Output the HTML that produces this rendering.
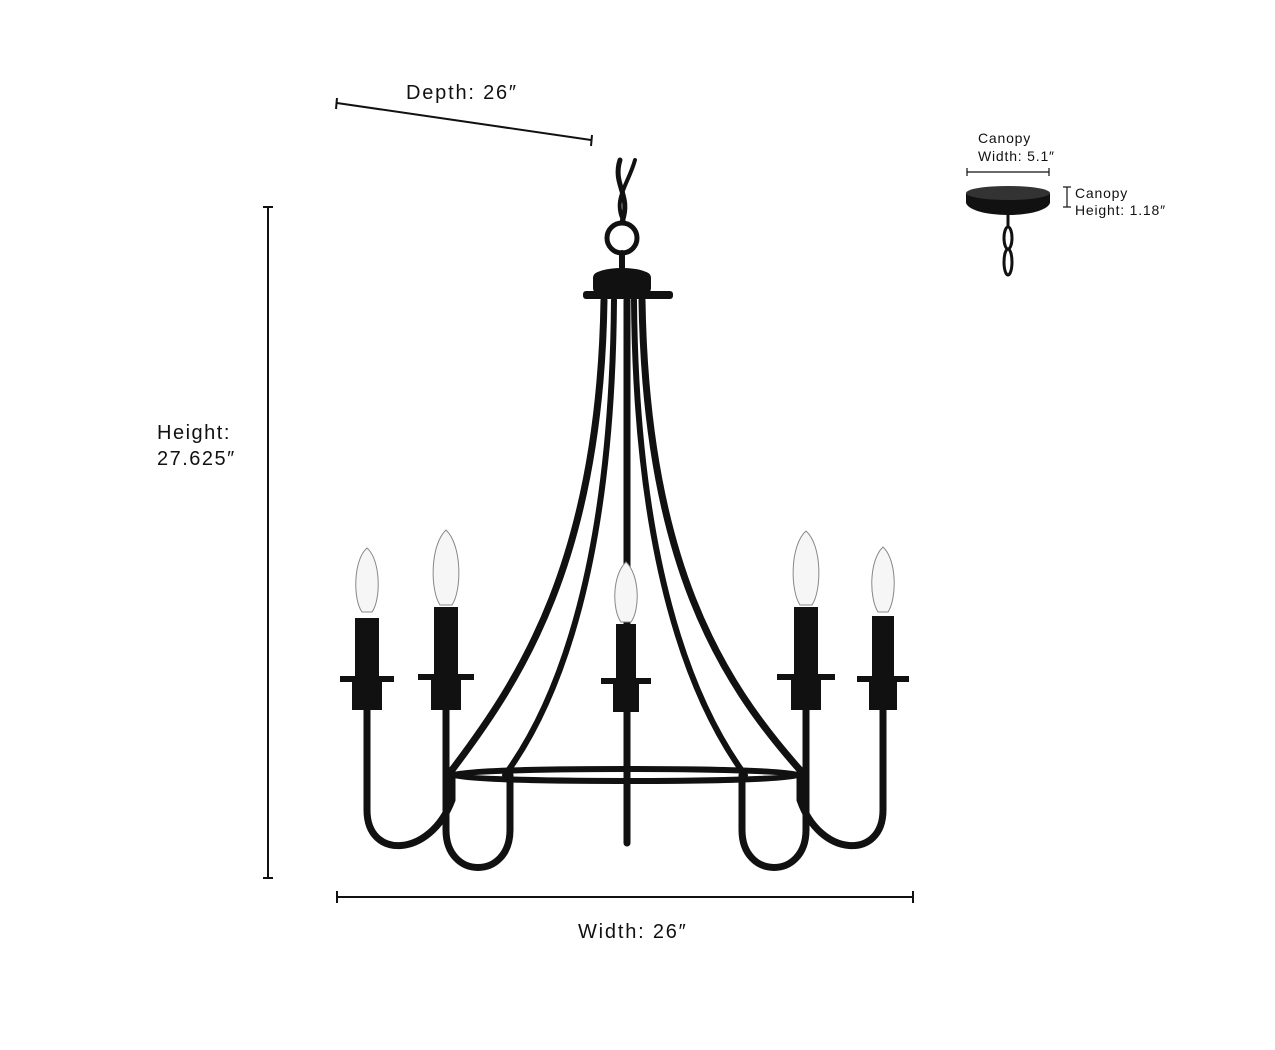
<!DOCTYPE html>
<html><head><meta charset="utf-8"><style>
html,body{margin:0;padding:0;background:#fff;}
svg{display:block;}
text{font-family:"Liberation Sans",sans-serif;fill:#111;}
</style></head><body>
<svg width="1275" height="1050" viewBox="0 0 1275 1050" xmlns="http://www.w3.org/2000/svg">
<g stroke="#111" stroke-width="2" fill="none">
 <line x1="337" y1="103" x2="591" y2="140"/>
 <line x1="337" y1="98" x2="336" y2="109"/>
 <line x1="592" y1="135" x2="591" y2="146"/>
 <line x1="268" y1="207" x2="268" y2="878"/>
 <line x1="263" y1="207" x2="273" y2="207"/>
 <line x1="263" y1="878" x2="273" y2="878"/>
 <line x1="337" y1="897" x2="913" y2="897"/>
 <line x1="337" y1="891" x2="337" y2="903"/>
 <line x1="913" y1="891" x2="913" y2="903"/>
 <line x1="967" y1="172" x2="1049" y2="172" stroke-width="1.2"/>
 <line x1="967" y1="168" x2="967" y2="176" stroke-width="1.2"/>
 <line x1="1049" y1="168" x2="1049" y2="176" stroke-width="1.2"/>
 <line x1="1067" y1="187" x2="1067" y2="207" stroke-width="1.2"/>
 <line x1="1063" y1="187" x2="1071" y2="187" stroke-width="1.2"/>
 <line x1="1063" y1="207" x2="1071" y2="207" stroke-width="1.2"/>
</g>
<text x="406" y="99" font-size="20" letter-spacing="1.8">Depth: 26″</text>
<text x="157" y="439" font-size="20" letter-spacing="1.5">Height:</text>
<text x="157" y="465" font-size="20" letter-spacing="1.5">27.625″</text>
<text x="578" y="938" font-size="20" letter-spacing="1.8">Width: 26″</text>
<text x="978" y="143" font-size="14" letter-spacing="0.8">Canopy</text>
<text x="978" y="161" font-size="14" letter-spacing="0.8">Width: 5.1″</text>
<text x="1075" y="198" font-size="14" letter-spacing="0.8">Canopy</text>
<text x="1075" y="215" font-size="14" letter-spacing="0.8">Height: 1.18″</text>

<g fill="#111">
 <ellipse cx="1008" cy="202" rx="42" ry="13"/>
 <rect x="966" y="193" width="84" height="10"/>
 <ellipse cx="1008" cy="193" rx="42" ry="7" fill="#333"/>
</g>
<g stroke="#111" stroke-width="3" fill="none">
 <path d="M1008 214 L1008 226"/>
 <ellipse cx="1008" cy="238" rx="4" ry="11"/>
 <ellipse cx="1008" cy="262" rx="4" ry="13"/>
</g>

<g stroke="#111" fill="none" stroke-linecap="round">
 <path d="M620 160 C612 185,632 195,622 222" stroke-width="5"/>
 <path d="M635 160 C628 185,612 200,624 222" stroke-width="4"/>
 <circle cx="622" cy="238" r="15" stroke-width="5"/>
 <line x1="622" y1="253" x2="622" y2="268" stroke-width="6"/>
 <path d="M604 300 C600 560,520 680,452 770" stroke-width="7"/>
 <path d="M614 300 C612 560,560 700,505 775" stroke-width="6"/>
 <path d="M642 300 C646 560,720 680,800 770" stroke-width="7"/>
 <path d="M634 300 C636 560,690 700,745 775" stroke-width="6"/>
 <line x1="627" y1="300" x2="627" y2="843" stroke-width="7"/>
 <ellipse cx="626" cy="775" rx="175" ry="6" stroke-width="6"/>
 <path d="M367 710 L367 810 C367 860,430 858,452 800 L452 770" stroke-width="7"/>
 <path d="M446 710 L446 830 C446 880,510 880,510 830 L510 775" stroke-width="7"/>
 <path d="M806 710 L806 830 C806 880,742 880,742 830 L742 775" stroke-width="7"/>
 <path d="M883 710 L883 810 C883 860,820 858,800 800 L800 770" stroke-width="7"/>
</g>
<g fill="#111">
 <rect x="593" y="272" width="58" height="22" rx="6"/>
 <rect x="583" y="291" width="90" height="8" rx="3"/>
 <ellipse cx="622" cy="276" rx="28" ry="8"/>
</g>
<g>
 <g transform="translate(367,0)">
  <path d="M0 548 C-14 560,-14 600,-5 612 L5 612 C14 600,14 560,0 548Z" fill="#f6f6f6" stroke="#888"/>
  <rect x="-12" y="618" width="24" height="62" fill="#111"/>
  <rect x="-27" y="676" width="54" height="6" fill="#111"/>
  <rect x="-15" y="682" width="30" height="28" fill="#111"/>
 </g>
 <g transform="translate(446,0)">
  <path d="M0 530 C-16 545,-16 590,-6 605 L6 605 C16 590,16 545,0 530Z" fill="#f6f6f6" stroke="#888"/>
  <rect x="-12" y="607" width="24" height="73" fill="#111"/>
  <rect x="-28" y="674" width="56" height="6" fill="#111"/>
  <rect x="-15" y="680" width="30" height="30" fill="#111"/>
 </g>
 <g transform="translate(626,0)">
  <path d="M0 562 C-14 575,-14 610,-5 622 L5 622 C14 610,14 575,0 562Z" fill="#f6f6f6" stroke="#888"/>
  <rect x="-10" y="624" width="20" height="56" fill="#111"/>
  <rect x="-25" y="678" width="50" height="6" fill="#111"/>
  <rect x="-13" y="684" width="26" height="28" fill="#111"/>
 </g>
 <g transform="translate(806,0)">
  <path d="M0 531 C-16 545,-16 590,-6 605 L6 605 C16 590,16 545,0 531Z" fill="#f6f6f6" stroke="#888"/>
  <rect x="-12" y="607" width="24" height="73" fill="#111"/>
  <rect x="-29" y="674" width="58" height="6" fill="#111"/>
  <rect x="-15" y="680" width="30" height="30" fill="#111"/>
 </g>
 <g transform="translate(883,0)">
  <path d="M0 547 C-14 560,-14 598,-5 612 L5 612 C14 598,14 560,0 547Z" fill="#f6f6f6" stroke="#888"/>
  <rect x="-11" y="616" width="22" height="62" fill="#111"/>
  <rect x="-26" y="676" width="52" height="6" fill="#111"/>
  <rect x="-14" y="682" width="28" height="28" fill="#111"/>
 </g>
</g>
</svg>
</body></html>
